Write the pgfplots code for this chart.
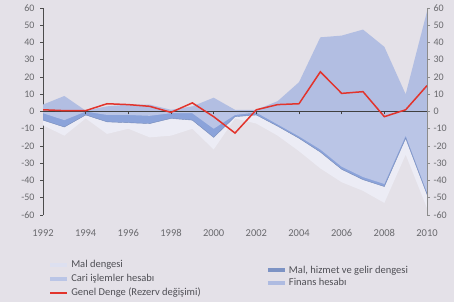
\documentclass[border=0pt]{standalone}
\usepackage{fontspec}
\setmainfont{Carlito}
\usepackage{pgfplots}
\pgfplotsset{compat=1.18}
\definecolor{bg}{HTML}{E4E1E8}
\definecolor{maldeng}{HTML}{ECECF5}
\definecolor{mhg}{HTML}{8BA3DA}
\definecolor{cari}{HTML}{BAC5E6}
\definecolor{finans}{HTML}{B2BEE2}
\definecolor{genel}{HTML}{E2342C}
\definecolor{labgray}{HTML}{6A6A6E}
\definecolor{leggray}{HTML}{4F4F55}
\begin{document}
\begin{tikzpicture}
\path[use as bounding box, fill=bg] (-43pt,-87pt) rectangle (411pt,215pt);
\begin{axis}[at={(0pt,0pt)}, anchor=south west, scale only axis,
  width=384pt, height=207pt,
  xmin=1992, xmax=2010, ymin=-60, ymax=60,
  axis y line*=left, axis x line*=bottom,
  x axis line style={draw=none}, y axis line style={draw=black!70, line width=0.8pt},
  xtick={1992,1994,...,2010}, ytick={-60,-50,...,60},
  xtick style={draw=none}, ytick style={draw=black!70, line width=0.8pt},
  tick align=outside, major tick length=3pt,
  /pgf/number format/assume math mode=true,
  /pgf/number format/1000 sep={},
  xticklabel style={font=\fontsize{10.5}{12}\selectfont, text=labgray, yshift=-8pt},
  yticklabel style={font=\fontsize{10}{12}\selectfont, text=labgray, xshift=-2pt},
  legend style={at={(0.013,-0.21)}, anchor=north west, draw=none, fill=none,
    font=\fontsize{10.5}{12}\selectfont\color{leggray}, row sep=1pt, inner sep=0pt},
  legend cell align=left,
]
% Mal dengesi
\addplot[fill=maldeng, draw=none, forget plot] coordinates {
(1992,-8) (1993,-14) (1994,-4) (1995,-13) (1996,-10) (1997,-15) (1998,-14) (1999,-10)
(2000,-22) (2001,-4) (2002,-7) (2003,-14) (2004,-23) (2005,-33) (2006,-41) (2007,-46)
(2008,-53) (2009,-25) (2010,-56)} \closedcycle;
% Mal, hizmet ve gelir dengesi
\addplot[fill=mhg, draw=mhg!85!black, line width=0.4pt, forget plot] coordinates {
(1992,-5) (1993,-9) (1994,-2) (1995,-6) (1996,-6.5) (1997,-7) (1998,-4) (1999,-5)
(2000,-15) (2001,-3) (2002,-2) (2003,-8.5) (2004,-15.5) (2005,-23.5) (2006,-33.5) (2007,-39.5)
(2008,-43.5) (2009,-15.5) (2010,-48)} \closedcycle;
% Cari islemler hesabi
\addplot[fill=cari, draw=none, forget plot] coordinates {
(1992,-1) (1993,-5) (1994,0) (1995,-2) (1996,-2) (1997,-2.5) (1998,-1) (1999,-1)
(2000,-10) (2001,-2) (2002,-0.6) (2003,-7.5) (2004,-14.4) (2005,-22) (2006,-32) (2007,-38)
(2008,-42) (2009,-14) (2010,-47)} \closedcycle;
% Finans hesabi
\addplot[fill=finans, draw=none, forget plot] coordinates {
(1992,4) (1993,9) (1994,0.5) (1995,3) (1996,4) (1997,4) (1998,1) (1999,3)
(2000,8) (2001,1) (2002,1) (2003,6) (2004,17) (2005,43) (2006,44) (2007,47.5)
(2008,37.5) (2009,10) (2010,58)} \closedcycle;
\addlegendimage{line width=4pt, color=maldeng!70!cari}
\addlegendentry{Mal dengesi}
\addlegendimage{line width=4pt, color=cari}
\addlegendentry{Cari işlemler hesabı}
\addlegendimage{line width=1.5pt, color=genel}
\addlegendentry{Genel Denge (Rezerv değişimi)}
\end{axis}
\begin{axis}[at={(0pt,0pt)}, anchor=south west, scale only axis,
  width=384pt, height=207pt,
  xmin=1992, xmax=2010, ymin=-60, ymax=60,
  axis x line*=middle, axis y line*=right,
  x axis line style={draw=black!75, line width=0.9pt},
  y axis line style={draw=black!45, line width=0.6pt},
  xtick={1994,1996,...,2010}, xticklabels={},
  ytick={-60,-50,...,60},
  xtick style={draw=black!75, line width=0.8pt},
  ytick style={draw=black!45, line width=0.6pt},
  tick align=outside, major tick length=3pt,
  /pgf/number format/assume math mode=true,
  yticklabel style={font=\fontsize{10}{12}\selectfont, text=labgray},
  legend style={at={(0.58,-0.235)}, anchor=north west, draw=none, fill=none,
    font=\fontsize{10.5}{12}\selectfont\color{leggray}, row sep=0pt, inner sep=0pt},
  legend cell align=left,
]
\addplot[genel, line width=1.5pt, forget plot] coordinates {
(1992,1) (1993,0.5) (1994,0.5) (1995,4.5) (1996,4) (1997,3) (1998,-0.5) (1999,5)
(2000,-3) (2001,-12.5) (2002,1) (2003,4) (2004,4.5) (2005,23) (2006,10.5) (2007,11.5)
(2008,-3) (2009,1) (2010,15)};
\addlegendimage{line width=4pt, color=mhg!90!black}
\addlegendentry{Mal, hizmet ve gelir dengesi}
\addlegendimage{line width=4pt, color=finans!90!mhg}
\addlegendentry{Finans hesabı}
\end{axis}
\end{tikzpicture}
\end{document}
